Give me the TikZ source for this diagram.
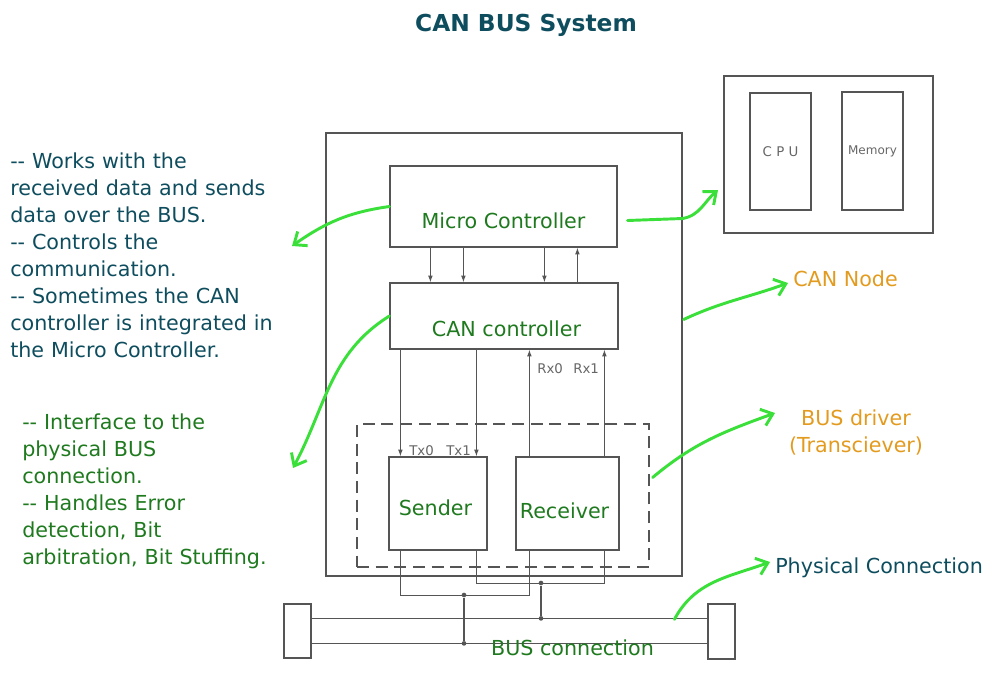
\documentclass[tikz,border=0pt]{standalone}
\usepackage{fontspec}
\setmainfont{DejaVu Sans}
\usetikzlibrary{arrows.meta,calc}

\definecolor{canteal}{HTML}{0E4D5E}
\definecolor{labelgreen}{HTML}{1F7A1F}
\definecolor{noteorange}{HTML}{E39B1F}
\definecolor{handgreen}{HTML}{3ADF3A}
\definecolor{linegray}{HTML}{555555}
\definecolor{pingray}{HTML}{666666}

\newcommand{\twodash}{-\kern0pt-}

\tikzset{
  blk/.style={rectangle, draw=linegray, line width=0.9pt, inner sep=0pt},
  sig/.style={draw=linegray, line width=0.8pt, -{Latex[length=5pt,width=3.5pt]}},
  wire/.style={draw=linegray, line width=0.8pt},
  hand/.style={draw=handgreen, line width=2.2pt, line cap=round, line join=round,
    -{Straight Barb[length=8pt,width=13pt]}},
  lbl/.style={font=\fontsize{15.5}{20.25}\selectfont, text=labelgreen, inner sep=0pt},
  pin/.style={font=\fontsize{10}{12}\selectfont, text=pingray, inner sep=0pt},
  junc/.style={circle, fill=linegray, inner sep=0pt, minimum size=3.5pt},
}

\begin{document}
\begin{tikzpicture}[x=0.75pt, y=-0.75pt]
    \useasboundingbox (0,0) rectangle (1005,675);

    \node[font=\fontsize{17.5}{20}\selectfont\bfseries, text=canteal, anchor=base, inner sep=0pt] (title) at (526,31) {CAN BUS System};

    % CAN node and its blocks
    \node[blk, minimum width=267pt, minimum height=332.25pt] (cannode) at (504,354.5) {};
    \node[blk, minimum width=170.25pt, minimum height=60.75pt] (mc) at (503.5,206.5) {};
    \node[blk, minimum width=171pt, minimum height=49.5pt] (cc) at (504,316) {};
    \node[blk, dash pattern=on 9pt off 5pt, minimum width=219pt, minimum height=107.25pt] (drv) at (503,495.5) {};
    \node[blk, minimum width=73.5pt, minimum height=69.75pt] (snd) at (438,503.5) {};
    \node[blk, minimum width=77.25pt, minimum height=69.75pt] (rcv) at (567.5,503.5) {};

    \node[lbl, anchor=base] (mc_t) at (503.5,228) {Micro Controller};
    \node[lbl, anchor=base] (cc_t) at (506.5,336) {CAN controller};
    \node[lbl, anchor=base] (snd_t) at (435.5,515) {Sender};
    \node[lbl, anchor=base] (rcv_t) at (564.5,518) {Receiver};

    % host with CPU and memory
    \node[blk, minimum width=156.75pt, minimum height=117.75pt] (host) at (828.5,154.5) {};
    \node[blk, pin, text=pingray, minimum width=45.75pt, minimum height=87.75pt] (cpu) at (780.5,151.5) {C P U};
    \node[blk, pin, font=\fontsize{9}{11}\selectfont, minimum width=45.75pt, minimum height=88.5pt] (mem) at (872.5,151) {Memory};

    % signals
    \draw[sig] ($(mc.south west)+(41,0)$) -- ($(cc.north west)+(41,0)$);
    \draw[sig] ($(mc.south west)+(74,0)$) -- ($(cc.north west)+(74,0)$);
    \draw[sig] ($(mc.south west)+(155,0)$) -- ($(cc.north west)+(155,0)$);
    \draw[sig] ($(cc.north west)+(188,0)$) -- ($(mc.south west)+(188,0)$);
    \draw[sig] ($(cc.south west)+(11,0)$) -- ($(snd.north west)+(12,0)$);
    \draw[sig] ($(cc.south west)+(87,0)$) -- ($(snd.north west)+(88,0)$);
    \draw[sig] ($(rcv.north west)+(14,0)$) -- ($(cc.south west)+(140,0)$);
    \draw[sig] ($(rcv.north west)+(89,0)$) -- ($(cc.south west)+(215,0)$);

    \node[pin, anchor=base west] (tx0) at (409,455) {Tx0};
    \node[pin, anchor=base west] (tx1) at (446,455) {Tx1};
    \node[pin, anchor=base west] (rx0) at (537,373) {Rx0};
    \node[pin, anchor=base west] (rx1) at (573,373) {Rx1};

    % bus
    \node[blk, minimum width=20.25pt, minimum height=40.5pt] (busl) at (297.5,631) {};
    \node[blk, minimum width=20.25pt, minimum height=41.25pt] (busr) at (721.5,631.5) {};
    \coordinate (bustopl) at ($(busl.north east)+(0,15)$);
    \coordinate (bustopr) at ($(busr.north west)+(0,15)$);
    \coordinate (busbotl) at ($(busl.north east)+(0,40)$);
    \coordinate (busbotr) at ($(busr.north west)+(0,40)$);
    \draw[wire] (bustopl) -- (bustopr);
    \draw[wire] (busbotl) -- (busbotr);
    \node[lbl, anchor=base] (bus_t) at (572.5,655) {BUS connection};

    \draw[wire] ($(snd.south west)+(12,0)$) -- ++(0,45) -| ($(rcv.south west)+(14,0)$);
    \draw[wire] ($(snd.south west)+(88,0)$) -- ++(0,33) -| ($(rcv.south west)+(89,0)$);
    \node[junc] (j1) at (464,595) {};
    \node[junc] (j2) at (541,583) {};
    \node[junc] (j1b) at (j1 |- busbotl) {};
    \node[junc] (j2b) at (j2 |- bustopl) {};
    \draw[wire] (j1) -- (j1b);
    \draw[wire] (j2) -- (j2b);

    % notes
    \node[font=\fontsize{15.5}{20.25}\selectfont, text=canteal, anchor=base west, inner sep=0pt, text width=230pt, align=left] (note_mc) at (10,168)
        {\twodash{} Works with the\\received data and sends\\data over the BUS.\\\twodash{} Controls the\\communication.\\\twodash{} Sometimes the CAN\\controller is integrated in\\the Micro Controller.};
    \node[lbl, anchor=base west, text width=230pt, align=left] (note_drv) at (22,429)
        {\twodash{} Interface to the\\physical BUS\\connection.\\\twodash{} Handles Error\\detection, Bit\\arbitration, Bit Stuffing.};
    \node[font=\fontsize{15.5}{20.25}\selectfont, text=noteorange, anchor=base west, inner sep=0pt] (node_t) at (793,286) {CAN Node};
    \node[font=\fontsize{15.5}{20.25}\selectfont, text=noteorange, anchor=base, inner sep=0pt, align=center] (drv_t) at (856,452) {BUS driver\\(Transciever)};
    \node[font=\fontsize{15.5}{20.25}\selectfont, text=canteal, anchor=base west, inner sep=0pt] (phy_t) at (775,573) {Physical Connection};

    % hand drawn pointers
    \coordinate (tip_mc) at (292,246);
    \coordinate (tip_host) at (718,190);
    \coordinate (tip_cc) at (293,468);
    \coordinate (tip_node) at (788,283);
    \coordinate (tip_drv) at (775,413);
    \coordinate (tip_phy) at (770,562);
    \draw[hand] (mc.west) to[out=188,in=35] (tip_mc);
    \draw[hand] ($(mc.east)+(10,14)$) -- ++(55,-2) to[out=10,in=220] (tip_host);
    \draw[hand] (cc.west) to[out=212,in=62] (tip_cc);
    \draw[hand] ($(cannode.east)+(1,-35)$) to[out=25,in=200] (tip_node);
    \draw[hand] ($(drv.east)+(3,-18)$) to[out=40,in=200] (tip_drv);
    \draw[hand] ($(busr.north west)+(-33,16)$) to[out=62,in=200] (tip_phy);
\end{tikzpicture}
\end{document}
